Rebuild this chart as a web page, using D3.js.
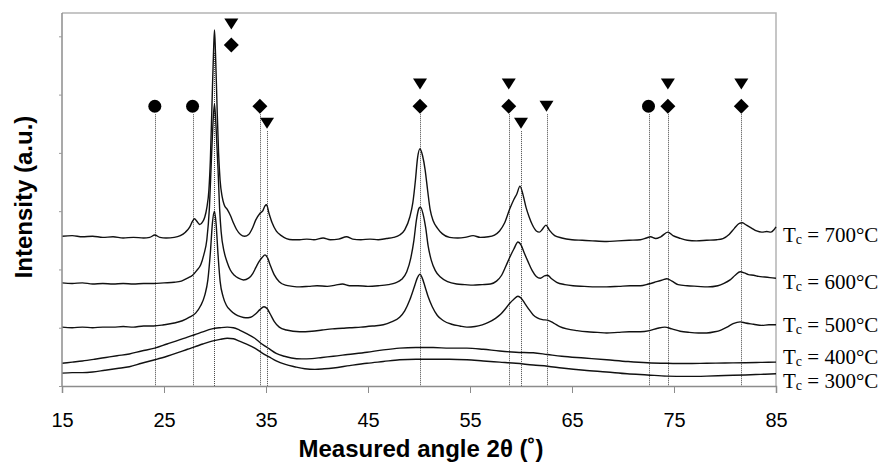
<!DOCTYPE html>
<html>
<head>
<meta charset="utf-8">
<script src="https://cdn.jsdelivr.net/npm/d3@7"></script>
<style>
  body { margin: 0; background: #fff; }
  #chart svg { display: block; }
</style>
</head>
<body>
<div id="chart"></div>
<script>
'use strict';

// angles (2θ) and intensities, one pair of arrays per curve
const angles_700 = [15, 16, 17, 18, 19, 20, 21, 22, 23, 23.6, 24.1, 24.6, 25.2, 26, 26.6, 27.1, 27.5, 27.8, 28.0, 28.2, 28.5, 28.8, 29.0, 29.2, 29.4, 29.55, 29.7, 29.85, 29.95, 30.05, 30.2, 30.35, 30.5, 30.7, 30.9, 31.2, 31.5, 31.8, 32.1, 32.5, 32.9, 33.3, 33.7, 34.0, 34.4, 34.7, 34.9, 35.05, 35.3, 35.6, 36.0, 36.5, 37.0, 37.6, 38.3, 39, 39.7, 40.6, 41.3, 42.1, 42.9, 43.5, 44.3, 45.2, 46, 46.8, 47.5, 48.1, 48.6, 49.1, 49.4, 49.65, 49.85, 50.1, 50.35, 50.6, 50.85, 51.1, 51.4, 51.8, 52.3, 53.0, 53.8, 54.5, 55.3, 56, 56.8, 57.4, 57.9, 58.4, 58.9, 59.3, 59.6, 59.9, 60.2, 60.5, 60.8, 61.1, 61.5, 61.8, 62.1, 62.45, 62.8, 63.3, 64, 65, 66, 67, 68.4, 69.5, 70.6, 71.7, 72.3, 72.7, 73.2, 73.7, 74.4, 74.9, 75.5, 76.3, 77.2, 78.2, 79.2, 79.8, 80.4, 80.9, 81.4, 81.7, 82.1, 82.6, 83.1, 83.6, 84.1, 84.5, 84.8, 85]
const counts_700 = [2570, 2580, 2560, 2570, 2550, 2560, 2540, 2550, 2540, 2550, 2590, 2550, 2540, 2550, 2580, 2640, 2720, 2830, 2870, 2830, 2770, 2820, 2900, 3060, 3360, 3900, 4800, 5700, 6110, 5700, 4800, 4000, 3530, 3250, 3110, 3030, 2930, 2800, 2690, 2600, 2570, 2600, 2720, 2850, 2960, 3010, 3090, 3110, 2960, 2800, 2660, 2580, 2530, 2510, 2510, 2520, 2510, 2540, 2510, 2520, 2560, 2520, 2510, 2520, 2510, 2530, 2550, 2590, 2680, 2900, 3150, 3530, 3900, 4070, 3950, 3710, 3350, 3020, 2830, 2710, 2610, 2550, 2540, 2550, 2580, 2550, 2560, 2590, 2660, 2800, 3040, 3200, 3300, 3430, 3280, 3060, 2900, 2770, 2660, 2640, 2690, 2760, 2670, 2580, 2540, 2510, 2500, 2490, 2480, 2490, 2500, 2510, 2540, 2560, 2530, 2560, 2640, 2580, 2540, 2500, 2490, 2500, 2510, 2530, 2600, 2700, 2790, 2800, 2760, 2710, 2660, 2640, 2650, 2640, 2680, 2730]

const angles_600 = [15, 16, 17, 18, 19, 20, 21, 22, 23, 24, 25, 26, 26.7, 27.3, 27.8, 28.2, 28.6, 28.9, 29.2, 29.45, 29.65, 29.8, 29.95, 30.1, 30.3, 30.45, 30.6, 30.9, 31.2, 31.5, 31.9, 32.3, 32.8, 33.3, 33.7, 34.0, 34.3, 34.6, 34.9, 35.15, 35.4, 35.8, 36.3, 36.9, 37.6, 38.3, 39.2, 40, 41, 41.8, 42.5, 43.2, 44, 45, 46, 47, 47.7, 48.3, 48.8, 49.2, 49.5, 49.75, 50.0, 50.15, 50.4, 50.65, 50.9, 51.2, 51.6, 52.1, 52.8, 53.7, 54.5, 55.3, 56.2, 57, 57.6, 58.1, 58.5, 58.9, 59.3, 59.7, 60.0, 60.3, 60.7, 61.1, 61.5, 61.9, 62.3, 62.6, 63.0, 63.5, 64.3, 65.1, 66.2, 67.3, 68.4, 69.6, 70.7, 71.7, 72.5, 73.3, 73.9, 74.3, 74.8, 75.4, 76.3, 77.3, 78.3, 79.3, 79.9, 80.5, 81.0, 81.5, 81.9, 82.3, 82.8, 83.3, 83.9, 84.4, 85]
const counts_600 = [1770, 1760, 1770, 1750, 1760, 1750, 1760, 1750, 1760, 1760, 1770, 1780, 1800, 1850, 1900, 1980, 2080, 2250, 2510, 3050, 3900, 4500, 4840, 4450, 3710, 3050, 2650, 2300, 2120, 1990, 1900, 1850, 1820, 1850, 1930, 2030, 2130, 2200, 2250, 2200, 2080, 1910, 1790, 1730, 1710, 1700, 1710, 1720, 1710, 1730, 1750, 1720, 1720, 1710, 1720, 1740, 1770, 1830, 1960, 2200, 2500, 2850, 3050, 3070, 2950, 2720, 2400, 2160, 1980, 1870, 1790, 1750, 1740, 1730, 1740, 1750, 1800, 1900, 2050, 2210, 2350, 2470, 2420, 2290, 2130, 1980, 1880, 1850, 1890, 1900, 1840, 1780, 1740, 1720, 1710, 1700, 1700, 1710, 1720, 1720, 1750, 1790, 1820, 1840, 1800, 1740, 1720, 1710, 1700, 1720, 1760, 1820, 1900, 1960, 1940, 1910, 1900, 1880, 1870, 1860, 1850]

const angles_500 = [15, 16, 17, 18, 19, 20, 21, 22, 23, 24, 25, 26, 26.8, 27.5, 28.1, 28.6, 29.0, 29.3, 29.55, 29.75, 29.95, 30.1, 30.3, 30.5, 30.8, 31.1, 31.5, 32.0, 32.5, 33.0, 33.5, 34.0, 34.4, 34.8, 35.1, 35.4, 35.8, 36.3, 37, 38.3, 39.5, 40.5, 41.5, 42.5, 43.2, 44.3, 45.5, 46.5, 47.3, 48.1, 48.6, 49.1, 49.5, 49.85, 50.1, 50.3, 50.6, 50.9, 51.3, 51.8, 52.4, 53.2, 54.0, 54.7, 55.5, 56.2, 56.8, 57.5, 58.0, 58.5, 58.9, 59.3, 59.7, 60.0, 60.4, 60.8, 61.2, 61.6, 62.1, 62.6, 63.2, 63.8, 64.5, 65.5, 66.5, 67.5, 68.4, 69.5, 70.6, 71.7, 72.6, 73.4, 74.1, 74.8, 75.6, 76.5, 77.4, 78.2, 79.0, 79.6, 80.2, 80.8, 81.5, 82.0, 82.8, 83.6, 84.3, 85]
const counts_500 = [1010, 1000, 1010, 1000, 1010, 1010, 1020, 1010, 1030, 1030, 1050, 1080, 1120, 1180, 1250, 1380, 1560, 1820, 2300, 2800, 3000, 2800, 2250, 1800, 1530, 1390, 1300, 1230, 1190, 1170, 1180, 1240, 1310, 1360, 1330, 1240, 1110, 1010, 960, 930, 940, 960, 980, 990, 1000, 1010, 1030, 1050, 1100, 1180, 1290, 1480, 1680, 1860, 1920, 1860, 1700, 1530, 1360, 1210, 1120, 1060, 1030, 1010, 1020, 1050, 1090, 1160, 1230, 1330, 1420, 1490, 1540, 1510, 1410, 1310, 1220, 1170, 1140, 1130, 1080, 1020, 980, 950, 930, 920, 910, 920, 930, 930, 950, 990, 1010, 980, 940, 920, 910, 910, 930, 960, 1010, 1070, 1100, 1080, 1060, 1040, 1050, 1050]

const angles_400 = [15, 16, 17, 18.2, 19.3, 20.4, 21.6, 22.8, 24.1, 25.3, 26.5, 27.3, 28.0, 28.8, 29.7, 30.5, 31.2, 31.8, 32.4, 33.1, 33.9, 34.6, 35.3, 36.0, 36.8, 37.5, 38.5, 39.5, 40.5, 41.6, 43.0, 44.9, 46.5, 48.1, 49.7, 51.4, 53, 54.7, 56.3, 57.9, 59.5, 61.2, 62.6, 64, 66.2, 68.4, 70.5, 72.4, 74.3, 76.2, 78.2, 80, 82, 83.5, 85]
const counts_400 = [390, 410, 430, 460, 490, 520, 550, 600, 650, 720, 790, 840, 880, 930, 980, 1000, 1010, 1000, 960, 900, 820, 720, 640, 560, 510, 480, 465, 470, 490, 510, 540, 580, 620, 650, 660, 660, 650, 650, 630, 600, 580, 570, 540, 510, 480, 450, 420, 400, 390, 385, 390, 395, 400, 405, 410]

const angles_300 = [15, 16, 17, 18, 19.2, 20.4, 21.6, 22.8, 24.1, 25.3, 26.5, 27.3, 28, 28.8, 29.7, 30.5, 31.2, 31.8, 32.4, 33.1, 33.9, 34.6, 35.3, 36.0, 36.9, 37.8, 38.8, 39.8, 40.7, 41.6, 43.2, 44.9, 46.5, 48.1, 49.7, 51.4, 53, 54.7, 56.3, 57.9, 59.5, 61.2, 62.6, 64, 66.2, 68.4, 70.4, 72.4, 74.3, 76.2, 78.2, 80, 82, 83.5, 85]
const counts_300 = [220, 230, 230, 240, 270, 300, 330, 390, 450, 510, 580, 630, 670, 720, 770, 800, 820, 810, 770, 720, 650, 570, 500, 430, 370, 330, 295, 285, 295, 310, 350, 390, 420, 450, 460, 460, 460, 450, 430, 410, 390, 360, 340, 310, 270, 240, 210, 190, 170, 165, 170, 180, 190, 200, 210]

const curve_names = ['700', '600', '500', '400', '300']
const label_levels = [2470, 1670, 930, 370, -30]

// reflections: where the dotted line sits, which phase, where the symbol sits
const refl_angles = [24.1, 27.8, 72.5, 29.9, 34.4, 50.1, 58.8, 74.4, 81.6, 29.9, 35.1, 50.1, 58.8, 60.0, 62.5, 74.4, 81.6]
const refl_phase = ['circle', 'circle', 'circle', 'diamond', 'diamond', 'diamond', 'diamond', 'diamond', 'diamond', 'triangle', 'triangle', 'triangle', 'triangle', 'triangle', 'triangle', 'triangle', 'triangle']
const refl_mark_angles = [24.1, 27.8, 72.5, 31.6, 34.4, 50.1, 58.8, 74.4, 81.6, 31.6, 35.1, 50.1, 58.8, 60.0, 62.5, 74.4, 81.6]
const refl_mark_levels = [4800, 4800, 4800, 5850, 4800, 4800, 4800, 4800, 4800, 6210, 4510, 5180, 5180, 4510, 4800, 5180, 5180]

const x_ticks = [15, 25, 35, 45, 55, 65, 75, 85]
const y_ticks = [0, 1000, 2000, 3000, 4000, 5000, 6000]

const dimensions = {
  width: 886,
  height: 462,
  margin: { top: 13, bottom: 76, left: 62, right: 110 }
}
dimensions.ctrWidth = dimensions.width - dimensions.margin.left - dimensions.margin.right
dimensions.ctrHeight = dimensions.height - dimensions.margin.top - dimensions.margin.bottom

const series = [
  { name: '700', angles: angles_700, counts: counts_700 },
  { name: '600', angles: angles_600, counts: counts_600 },
  { name: '500', angles: angles_500, counts: counts_500 },
  { name: '400', angles: angles_400, counts: counts_400 },
  { name: '300', angles: angles_300, counts: counts_300 }
].map(s => ({ name: s.name, values: s.angles.map((a, i) => ({ angle: a, count: s.counts[i] })) }))

const reflections = refl_angles.map((a, i) => ({
  angle: a, phase: refl_phase[i], mark_angle: refl_mark_angles[i], level: refl_mark_levels[i]
}))

const svg_el = d3.select('#chart')
  .append('svg')
  .attr('width', dimensions.width)
  .attr('height', dimensions.height)

const chart_g = svg_el.append('g')
  .attr('transform', `translate(${dimensions.margin.left}, ${dimensions.margin.top})`)

const xScale = d3.scaleLinear()
  .domain([15, 85])
  .range([0, dimensions.ctrWidth])

const yScale = d3.scaleLinear()
  .domain([0, 6400])
  .range([dimensions.ctrHeight, 0])

// plot frame (top and right edges)
chart_g.append('path')
  .attr('d', `M0,0H${dimensions.ctrWidth}V${dimensions.ctrHeight}`)
  .attr('fill', 'none')
  .attr('stroke', '#b4b4b4')
  .attr('stroke-width', 1.5)

// dotted reflection lines
const line_tops = d3.rollup(reflections, v => d3.min(v, d => d.level), d => d.angle)
chart_g.append('g')
  .selectAll('line')
  .data(Array.from(line_tops))
  .join('line')
  .attr('x1', d => Math.round(xScale(d[0])) + 0.5)
  .attr('x2', d => Math.round(xScale(d[0])) + 0.5)
  .attr('y1', d => yScale(d[1]) + 8)
  .attr('y2', dimensions.ctrHeight)
  .attr('stroke', '#444')
  .attr('stroke-width', 1)
  .attr('stroke-dasharray', '1,1')

// curves
const line = d3.line()
  .x(d => xScale(d.angle))
  .y(d => yScale(d.count))
  .curve(d3.curveMonotoneX)

chart_g.append('g')
  .selectAll('path')
  .data(series)
  .join('path')
  .attr('d', d => line(d.values))
  .attr('fill', 'none')
  .attr('stroke', '#111')
  .attr('stroke-width', 1.4)
  .attr('stroke-linejoin', 'round')

// phase symbols
const symbol_path = function(phase) {
  const p = d3.path()
  if (phase === 'circle') {
    p.arc(0, 0, 6.5, 0, 2 * Math.PI)
  } else if (phase === 'diamond') {
    p.moveTo(0, -7.5); p.lineTo(7.5, 0); p.lineTo(0, 7.5); p.lineTo(-7.5, 0); p.closePath()
  } else {
    p.moveTo(-7, -5.5); p.lineTo(7, -5.5); p.lineTo(0, 5.5); p.closePath()
  }
  return p.toString()
}
chart_g.append('g')
  .selectAll('path')
  .data(reflections)
  .join('path')
  .attr('transform', d => `translate(${xScale(d.mark_angle)},${yScale(d.level)})`)
  .attr('d', d => symbol_path(d.phase))
  .attr('fill', '#000')

// X axis
const xAxis = d3.axisBottom(xScale)
  .tickValues(x_ticks)
  .tickSize(7)
  .tickPadding(20)
const xAxisGroup = chart_g.append('g')
  .attr('transform', `translate(0, ${dimensions.ctrHeight})`)
  .style('font-family', 'Liberation Sans, Arial, sans-serif')
  .style('font-size', '20px')
  .call(xAxis)
xAxisGroup.select('.domain').attr('stroke', '#8c8c8c').attr('stroke-width', 1.5)
xAxisGroup.selectAll('.tick line').attr('stroke', '#8c8c8c')
xAxisGroup.selectAll('.tick text').attr('fill', '#000').attr('dy', '0.71em')

xAxisGroup.append('text')
  .attr('x', xScale(50) + 2)
  .attr('y', 71)
  .style('fill', 'black')
  .style('font-weight', 'bold')
  .style('font-size', '24px')
  .style('text-anchor', 'middle')
  .text('Measured angle 2θ (˚)')

// Y axis (ticks only, no labels)
const yAxis = d3.axisLeft(yScale)
  .tickValues(y_ticks)
  .tickSize(3)
  .tickFormat('')
const yAxisGroup = chart_g.append('g')
  .call(yAxis)
yAxisGroup.select('.domain').attr('stroke', '#8c8c8c').attr('stroke-width', 1.5)
  .attr('d', `M0,0V${dimensions.ctrHeight}`)
yAxisGroup.selectAll('.tick line').attr('stroke', '#999')

yAxisGroup.append('text')
  .attr('x', -dimensions.ctrHeight / 2 + 2.5)
  .attr('y', -dimensions.margin.left + 32)
  .attr('transform', 'rotate(-90)')
  .style('text-anchor', 'middle')
  .style('font-family', 'Liberation Sans, Arial, sans-serif')
  .style('font-weight', 'bold')
  .style('font-size', '24px')
  .style('fill', 'black')
  .text('Intensity (a.u.)')

// curve labels
const labels = chart_g.append('g')
  .style('font-family', 'Liberation Serif, Times New Roman, serif')
  .style('font-size', '21px')
  .selectAll('text')
  .data(curve_names)
  .join('text')
  .attr('x', dimensions.ctrWidth + 7)
  .attr('y', (d, i) => yScale(label_levels[i]))
labels.append('tspan').text('T')
labels.append('tspan').attr('dy', 2).style('font-size', '14px').text('c')
labels.append('tspan').attr('dy', -2).text(d => ` = ${d}°C`)
</script>
</body>
</html>
